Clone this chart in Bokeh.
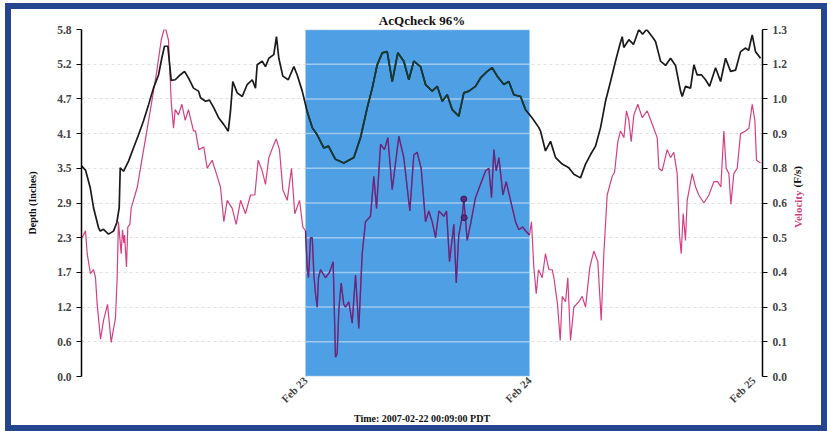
import math
from datetime import datetime, timedelta
from bokeh.plotting import figure
from bokeh.models import (Range1d, LinearAxis, FixedTicker, DatetimeTickFormatter,
                          BoxAnnotation, Label)
from bokeh.embed import file_html
from bokeh.resources import INLINE

# ---------------- data ----------------
base_time = datetime(2007, 2, 22, 0, 0)
x_end_hours = 72.96

depth_hours = [0.0, 0.43, 0.93, 1.29, 1.82, 2.0, 2.36, 2.89, 3.43, 3.78, 4.04, 4.15, 4.5, 5.04,
               5.57, 6.11, 6.64, 7.18, 7.71, 8.25, 8.6, 8.89, 9.25, 9.61, 10.04, 10.57, 11.04,
               11.46, 12.0, 12.54, 12.75, 13.29, 13.71, 14.18, 14.71, 15.25, 15.72, 15.96, 16.21,
               16.68, 17.22, 17.75, 18.29, 18.64, 18.82, 19.36, 19.71, 20.07, 20.6, 20.89, 21.14,
               21.57, 22.15, 22.75, 23.11, 23.65, 24.18, 24.72, 25.25, 25.96, 26.46, 27.21, 28.1,
               29.18, 29.89, 30.61, 31.15, 31.68, 32.22, 32.75, 33.29, 33.89, 34.53, 35.07, 35.6,
               36.32, 36.86, 37.57, 38.11, 38.65, 39.18, 39.72, 40.42, 40.96, 41.5, 42.21, 42.75,
               43.47, 44.0, 44.54, 45.25, 45.78, 46.32, 47.04, 47.57, 48.29, 49.0, 49.18, 49.71,
               50.25, 50.79, 51.5, 52.21, 52.75, 53.46, 54.0, 54.54, 55.07, 55.61, 56.14, 56.68,
               57.21, 57.68, 57.93, 58.1, 58.64, 59.14, 59.71, 60.11, 60.54, 61.15, 61.5, 61.86,
               62.04, 62.57, 63.11, 63.64, 64.18, 64.36, 64.71, 65.25, 65.61, 65.96, 66.43, 66.86,
               67.29, 67.93, 68.47, 69.0, 69.54, 70.07, 70.61, 71.15, 71.47, 71.86, 72.21, 72.75]
depth_inches = [3.52, 3.45, 3.16, 2.82, 2.49, 2.43, 2.46, 2.38, 2.43, 2.57, 2.82, 3.49, 3.43, 3.6,
                3.82, 4.04, 4.27, 4.54, 4.82, 5.04, 5.32, 5.52, 5.52, 4.95, 4.96, 5.04, 5.1,
                4.99, 4.82, 4.77, 4.66, 4.6, 4.62, 4.49, 4.32, 4.21, 4.1, 4.43, 4.93,
                4.74, 4.68, 4.88, 4.96, 4.82, 5.21, 5.27, 5.18, 5.32, 5.38, 5.68, 5.32,
                5.02, 4.96, 5.18, 5.04, 4.77, 4.43, 4.16, 4.04, 3.82, 3.85, 3.63, 3.57,
                3.66, 3.99, 4.49, 4.82, 5.21, 5.41, 5.43, 4.93, 5.41, 5.27, 4.96, 5.27,
                5.18, 4.88, 4.77, 4.85, 4.6, 4.71, 4.46, 4.35, 4.74, 4.77, 4.85, 4.99,
                5.1, 5.16, 5.02, 4.88, 4.93, 4.71, 4.68, 4.46, 4.32, 4.16, 4.1, 3.77,
                3.93, 3.66, 3.55, 3.49, 3.38, 3.32, 3.55, 3.71, 3.85, 4.16, 4.6, 4.93,
                5.27, 5.55, 5.68, 5.5, 5.63, 5.55, 5.8, 5.72, 5.8, 5.68, 5.6, 5.38,
                5.27, 5.2, 5.32, 5.2, 4.77, 4.68, 4.85, 4.82, 5.21, 5.04, 5.04, 4.96,
                4.85, 5.16, 4.93, 5.32, 5.1, 5.12, 5.43, 5.49, 5.45, 5.71, 5.43, 5.32]

velocity_hours = [0.07, 0.43, 0.61, 0.96, 1.29, 1.5, 1.68, 2.04, 2.36, 2.79, 3.18, 3.64, 3.82,
                  3.96, 4.25, 4.39, 4.54, 4.61, 4.82, 4.96, 5.18, 5.32, 5.98, 6.46, 7.0, 7.53,
                  8.07, 8.54, 8.84, 9.03, 9.32, 9.61, 9.86, 10.04, 10.39, 10.75, 11.11, 11.46,
                  12.0, 12.21, 12.57, 13.1, 13.47, 14.0, 14.54, 14.89, 15.25, 15.61, 16.15,
                  16.57, 17.04, 17.57, 18.11, 18.57, 18.93, 19.36, 19.71, 20.07, 20.5, 20.86,
                  21.21, 21.57, 22.04, 22.5, 22.85, 23.36, 23.71, 24.0, 24.18, 24.32, 24.54,
                  24.72, 24.9, 25.07, 25.25, 25.39, 25.61, 26.14, 26.57, 26.96, 27.21, 27.39,
                  27.57, 27.82, 28.1, 28.29, 28.64, 29.0, 29.36, 29.71, 30.07, 30.43, 30.96,
                  31.32, 31.61, 32.04, 32.46, 32.82, 33.29, 33.75, 34.0, 34.53, 35.18, 35.6,
                  35.96, 36.39, 36.86, 37.21, 37.57, 37.93, 38.29, 38.82, 39.11, 39.43, 39.89,
                  40.15, 40.42, 40.79, 40.96, 41.32, 41.68, 42.21, 42.75, 43.29, 43.64, 43.93,
                  44.18, 44.43, 44.72, 45.15, 45.5, 45.97, 46.5, 46.86, 47.25, 47.57, 48.0,
                  48.21, 48.46, 48.72, 48.96, 49.36, 49.71, 50.07, 50.43, 50.61, 51.0, 51.29,
                  51.5, 51.86, 52.1, 52.39, 52.75, 53.28, 53.64, 54.0, 54.46, 54.89, 55.32,
                  55.68, 55.96, 56.32, 56.86, 57.11, 57.46, 57.75, 58.11, 58.39, 58.64, 58.89,
                  59.18, 59.6, 60.07, 60.61, 61.15, 61.68, 61.86, 62.21, 62.75, 63.11, 63.46,
                  63.82, 64.07, 64.25, 64.46, 64.71, 64.89, 65.43, 65.79, 66.14, 66.68, 67.22,
                  67.75, 68.15, 68.5, 68.82, 69.07, 69.36, 69.57, 69.89, 70.25, 70.61, 71.15,
                  71.5, 71.86, 72.14, 72.32, 72.75]
velocity_fps = [0.52, 0.546, 0.46, 0.385, 0.40, 0.37, 0.27, 0.14, 0.21, 0.27, 0.128, 0.22, 0.37,
                0.58, 0.46, 0.55, 0.50, 0.53, 0.41, 0.56, 0.57, 0.63, 0.71, 0.81, 0.92, 1.03,
                1.145, 1.26, 1.30, 1.30, 1.26, 1.03, 0.93, 1.0, 0.98, 1.02, 0.96, 1.0,
                0.92, 0.92, 0.85, 0.86, 0.78, 0.81, 0.75, 0.71, 0.58, 0.66, 0.63,
                0.57, 0.66, 0.61, 0.68, 0.68, 0.81, 0.77, 0.72, 0.82, 0.86, 0.89,
                0.85, 0.70, 0.66, 0.78, 0.61, 0.66, 0.56, 0.546, 0.41, 0.37, 0.52,
                0.52, 0.38, 0.31, 0.26, 0.37, 0.40, 0.37, 0.39, 0.43, 0.072, 0.085,
                0.25, 0.35, 0.27, 0.26, 0.28, 0.2, 0.38, 0.18, 0.46, 0.58, 0.60,
                0.75, 0.63, 0.87, 0.85, 0.895, 0.70, 0.83, 0.90, 0.82, 0.62, 0.83,
                0.84, 0.78, 0.58, 0.62, 0.58, 0.52, 0.62, 0.60, 0.62, 0.43, 0.57,
                0.35, 0.53, 0.60, 0.665, 0.51, 0.57, 0.67, 0.72, 0.77, 0.78, 0.67,
                0.85, 0.77, 0.82, 0.68, 0.73, 0.66, 0.58, 0.55, 0.56, 0.546, 0.53,
                0.58, 0.41, 0.31, 0.40, 0.37, 0.46, 0.40, 0.40, 0.37, 0.27, 0.135,
                0.30, 0.28, 0.37, 0.135, 0.26, 0.28, 0.30, 0.26, 0.41, 0.47, 0.43,
                0.21, 0.46, 0.68, 0.75, 0.765, 0.88, 0.92, 0.895, 0.995, 0.96, 0.88,
                0.98, 1.02, 0.97, 0.995, 0.945, 0.895, 0.78, 0.77, 0.85, 0.82, 0.84,
                0.76, 0.53, 0.46, 0.61, 0.51, 0.66, 0.76, 0.71, 0.68, 0.65, 0.68,
                0.73, 0.73, 0.71, 0.92, 0.78, 0.76, 0.645, 0.76, 0.78, 0.91, 0.92,
                0.93, 1.02, 0.96, 0.81, 0.80]

flag_hours = [40.96, 41.0]
flag_velocity = [0.665, 0.595]

highlight_start_hours = 24.0   # Feb 23
highlight_end_hours = 48.0     # Feb 24
x_tick_hours = [24.0, 48.0, 72.0]

depth_max = 5.8
velocity_max = 1.3
depth_tick_labels = ["0.0", "0.6", "1.2", "1.7", "2.3", "2.9", "3.5", "4.1", "4.7", "5.2", "5.8"]
velocity_tick_labels = ["0.0", "0.1", "0.3", "0.4", "0.5", "0.6", "0.8", "0.9", "1.0", "1.2", "1.3"]

title_text = "AcQcheck 96%"
x_label_text = "Time: 2007-02-22 00:09:00 PDT"
depth_label_text = "Depth (Inches)"
vel_label_a = "Velocity"
vel_label_b = "(F/s)"

# ---------------- helpers ----------------
def to_dt(hours):
    return [base_time + timedelta(hours=h) for h in hours]

def ms(h):
    return (base_time + timedelta(hours=h) - datetime(1970, 1, 1)).total_seconds() * 1000.0

FONT = "Liberation Serif"
PINK = "#d63f82"
BLUE = "#4f9fe4"

p = figure(width=810, height=416, x_axis_type="datetime", output_backend="svg",
           toolbar_location=None, x_range=Range1d(to_dt([0.0])[0], to_dt([x_end_hours])[0]),
           y_range=Range1d(0, depth_max), min_border_left=70, min_border_right=71,
           min_border_top=19, min_border_bottom=61)
p.styles = {"border": "6px solid #26458f", "margin-left": "5px", "margin-top": "3px",
            "box-sizing": "content-box"}
p.title.text = title_text
p.title.align = "center"
p.title.offset = -6
p.title.text_font = FONT
p.title.text_font_style = "bold"
p.title.text_font_size = "13px"
p.title.text_color = "#111111"
p.title.standoff = 3
p.outline_line_color = None
p.background_fill_color = "white"
p.border_fill_color = "white"
p.extra_y_ranges = {"vel": Range1d(0, velocity_max)}

n_ticks = len(depth_tick_labels)
depth_ticks = [depth_max * i / (n_ticks - 1) for i in range(n_ticks)]
vel_ticks = [velocity_max * i / (n_ticks - 1) for i in range(n_ticks)]

# left axis
ya = p.yaxis[0]
ya.ticker = FixedTicker(ticks=depth_ticks)
ya.major_label_overrides = {t: l for t, l in zip(depth_ticks, depth_tick_labels)}
ya.minor_tick_line_color = None
ya.major_tick_in = 0
ya.major_tick_out = 5
ya.axis_line_width = 1.5
ya.major_tick_line_width = 1.2
ya.major_label_text_font = FONT
ya.major_label_text_font_style = "bold"
ya.major_label_text_font_size = "11.5px"
ya.major_label_standoff = 5
ya.axis_label = depth_label_text
ya.axis_label_text_font = FONT
ya.axis_label_text_font_style = "bold"
ya.axis_label_text_font_size = "10px"
ya.axis_label_text_color = "#111111"
ya.axis_label_standoff = 16

# right axis
ra = LinearAxis(y_range_name="vel")
ra.ticker = FixedTicker(ticks=vel_ticks)
ra.major_label_overrides = {t: l for t, l in zip(vel_ticks, velocity_tick_labels)}
ra.minor_tick_line_color = None
ra.major_tick_in = 0
ra.major_tick_out = 5
ra.axis_line_width = 1.5
ra.major_tick_line_width = 1.2
ra.major_label_text_font = FONT
ra.major_label_text_font_style = "bold"
ra.major_label_text_font_size = "11.5px"
ra.major_label_standoff = 5
p.add_layout(ra, "right")

# bottom axis
xa = p.xaxis[0]
xa.ticker = FixedTicker(ticks=[ms(h) for h in x_tick_hours])
xa.formatter = DatetimeTickFormatter(days="%b %d", months="%b %d", hours="%b %d")
xa.major_label_orientation = math.pi / 4
xa.axis_line_color = None
xa.major_tick_line_color = None
xa.major_tick_in = 0
xa.major_tick_out = 0
xa.minor_tick_line_color = None
xa.minor_tick_out = 0
xa.major_label_text_font = FONT
xa.major_label_text_font_style = "bold"
xa.major_label_text_font_size = "11px"
xa.major_label_standoff = 2
xa.axis_label = x_label_text
xa.axis_label_text_font = FONT
xa.axis_label_text_font_style = "bold"
xa.axis_label_text_font_size = "10px"
xa.axis_label_text_color = "#111111"
xa.axis_label_standoff = 1

p.xgrid.visible = False
p.ygrid.ticker = FixedTicker(ticks=depth_ticks)
p.ygrid.grid_line_color = "#bdbdbd"
p.ygrid.grid_line_alpha = 0.45
p.ygrid.grid_line_dash = "3 3"

# highlighted day
box = BoxAnnotation(left=ms(highlight_start_hours), right=ms(highlight_end_hours),
                    fill_color=BLUE, fill_alpha=1.0, line_color=None, level="underlay")
p.add_layout(box)
p.segment(x0=to_dt([highlight_start_hours] * n_ticks), x1=to_dt([highlight_end_hours] * n_ticks),
          y0=depth_ticks, y1=depth_ticks, line_color="white", line_alpha=0.45, line_width=1.5)

# full series
p.line(to_dt(velocity_hours), velocity_fps, y_range_name="vel", line_color=PINK, line_width=1.2)
p.line(to_dt(depth_hours), depth_inches, line_color="#1a1a1a", line_width=1.7)

# series segments inside the highlighted day (darkened by the blue)
vi = [i for i, h in enumerate(velocity_hours) if highlight_start_hours <= h <= highlight_end_hours]
di = [i for i, h in enumerate(depth_hours) if highlight_start_hours <= h <= highlight_end_hours]
p.line(to_dt([velocity_hours[i] for i in vi]), [velocity_fps[i] for i in vi], y_range_name="vel",
       line_color="#5b2b82", line_width=1.4)
p.line(to_dt([depth_hours[i] for i in di]), [depth_inches[i] for i in di],
       line_color="#173a33", line_width=1.7)
p.scatter(to_dt(flag_hours), flag_velocity, y_range_name="vel", size=6,
          fill_color="#5b2b82", line_color="#3a1a55")

# right axis title in two colours, placed in the right side panel
p.add_layout(Label(x=8, y=186, x_units="screen", y_units="screen", text=vel_label_a,
                   angle=math.pi / 2, text_align="right", text_baseline="middle", text_font=FONT,
                   text_font_style="bold", text_font_size="11px", text_color=PINK), "right")
p.add_layout(Label(x=-5, y=189, x_units="screen", y_units="screen", text=vel_label_b,
                   angle=math.pi / 2, text_align="left", text_baseline="middle", text_font=FONT,
                   text_font_style="bold", text_font_size="11px", text_color="#111111"), "right")

open("out.html", "w").write(file_html(p, INLINE))
